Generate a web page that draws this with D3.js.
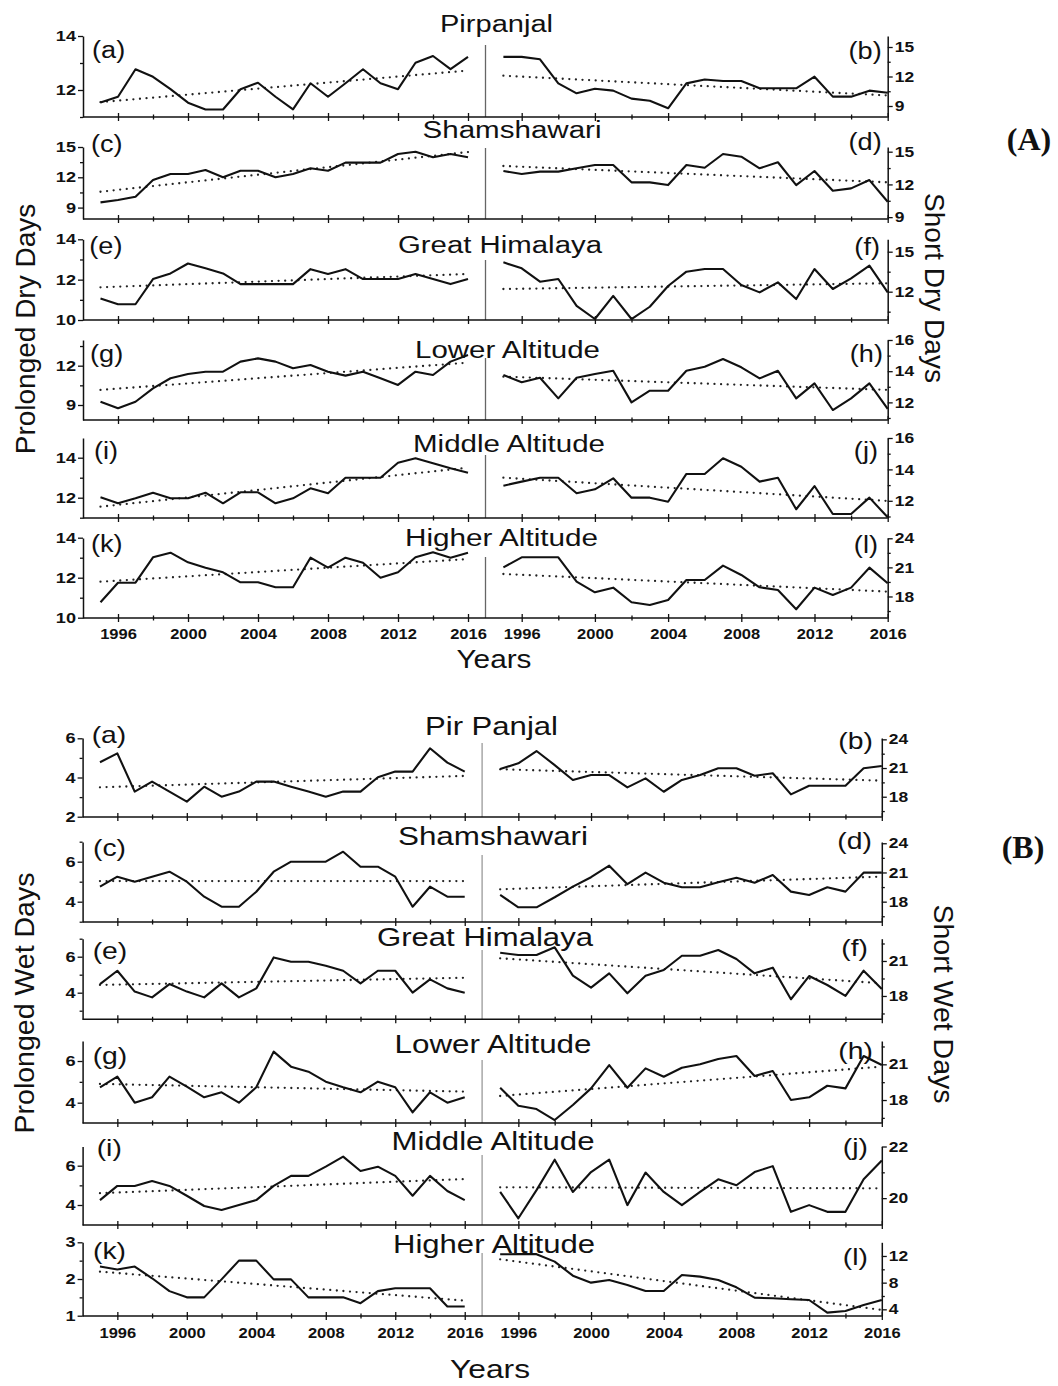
<!DOCTYPE html>
<html>
<head>
<meta charset="utf-8">
<script src="https://cdn.jsdelivr.net/npm/d3@7"></script>
<style>
  body { margin: 0; background: #fff; }
  svg { display: block; }
  text { font-family: "Liberation Sans", Arial, sans-serif; fill: #111; }
</style>
</head>
<body>
<svg id="chart" width="1058" height="1386"></svg>
<script>
// ---- data ---------------------------------------------------------------
const years = [1995, 1996, 1997, 1998, 1999, 2000, 2001, 2002, 2003, 2004, 2005,
               2006, 2007, 2008, 2009, 2010, 2011, 2012, 2013, 2014, 2015, 2016];
const yearTicks = [1996, 2000, 2004, 2008, 2012, 2016];
const yearMinorTicks = [1998, 2002, 2006, 2010, 2014];

const regionsA = ["Pirpanjal", "Shamshawari", "Great Himalaya", "Lower Altitude", "Middle Altitude", "Higher Altitude"];
const regionsB = ["Pir Panjal", "Shamshawari", "Great Himalaya", "Lower Altitude", "Middle Altitude", "Higher Altitude"];
const lettersLeft = ["(a)", "(c)", "(e)", "(g)", "(i)", "(k)"];
const lettersRight = ["(b)", "(d)", "(f)", "(h)", "(j)", "(l)"];

// (A) prolonged dry days
const pdPirpanjal      = [11.54, 11.75, 12.77, 12.49, 12.03, 11.53, 11.28, 11.28, 12.03, 12.27, 11.75, 11.28, 12.25, 11.75, 12.25, 12.77, 12.25, 12.03, 13.01, 13.26, 12.77, 13.23];
const pdShamshawari    = [9.52, 9.75, 10.08, 11.73, 12.33, 12.33, 12.72, 12.0, 12.65, 12.65, 12.0, 12.33, 12.89, 12.65, 13.45, 13.45, 13.45, 14.31, 14.53, 13.98, 14.31, 13.98];
const pdGreatHimalaya  = [11.07, 10.78, 10.78, 12.03, 12.31, 12.8, 12.56, 12.31, 11.78, 11.78, 11.78, 11.78, 12.52, 12.28, 12.52, 12.03, 12.03, 12.03, 12.28, 12.03, 11.78, 12.03];
const pdLower          = [9.25, 8.75, 9.25, 10.27, 11.04, 11.37, 11.54, 11.54, 12.31, 12.56, 12.31, 11.8, 12.05, 11.54, 11.24, 11.54, 11.04, 10.53, 11.54, 11.29, 12.31, 12.82];
const pdMiddle         = [12.02, 11.72, 11.97, 12.25, 11.97, 11.97, 12.25, 11.72, 12.27, 12.27, 11.72, 11.97, 12.47, 12.22, 13.0, 13.0, 13.0, 13.75, 13.97, 13.72, 13.47, 13.25];
const pdHigher         = [10.77, 11.75, 11.75, 13.02, 13.25, 12.77, 12.5, 12.27, 11.77, 11.77, 11.52, 11.52, 13.0, 12.5, 13.0, 12.75, 12.0, 12.27, 13.02, 13.27, 13.0, 13.25];

// (A) short dry days
const sdPirpanjal      = [14.0, 14.0, 13.75, 11.3, 10.29, 10.76, 10.56, 9.75, 9.54, 8.77, 11.3, 11.7, 11.54, 11.54, 10.8, 10.8, 10.8, 11.98, 9.95, 9.95, 10.56, 10.35];
const sdShamshawari    = [13.23, 12.95, 13.17, 13.17, 13.48, 13.78, 13.78, 12.19, 12.19, 11.94, 13.78, 13.53, 14.79, 14.54, 13.48, 14.03, 11.94, 13.23, 11.42, 11.64, 12.4, 10.41];
const sdGreatHimalaya  = [14.2, 13.75, 12.75, 12.95, 10.93, 9.95, 11.68, 9.95, 10.87, 12.43, 13.5, 13.7, 13.7, 12.5, 11.95, 12.7, 11.45, 13.7, 12.2, 13.0, 13.95, 11.95];
const sdLower          = [13.76, 13.29, 13.58, 12.26, 13.58, 13.82, 14.03, 12.0, 12.75, 12.75, 14.03, 14.29, 14.78, 14.25, 13.54, 14.03, 12.26, 13.22, 11.51, 12.26, 13.22, 11.58];
const sdMiddle         = [12.96, 13.22, 13.47, 13.47, 12.48, 12.73, 13.43, 12.2, 12.2, 11.94, 13.71, 13.71, 14.71, 14.17, 13.22, 13.47, 11.46, 12.94, 11.16, 11.16, 12.2, 10.95];
const sdHigher         = [21.0, 22.04, 22.04, 22.04, 19.53, 18.43, 18.91, 17.4, 17.12, 17.64, 19.7, 19.7, 21.18, 20.22, 18.95, 18.67, 16.68, 18.91, 18.15, 18.91, 20.97, 19.36];

// (B) prolonged wet days
const pwPirPanjal      = [4.78, 5.23, 3.28, 3.79, 3.28, 2.77, 3.53, 3.02, 3.28, 3.79, 3.79, 3.53, 3.28, 3.02, 3.28, 3.28, 4.01, 4.3, 4.3, 5.49, 4.76, 4.3];
const pwShamshawari    = [4.75, 5.25, 5.0, 5.25, 5.5, 5.0, 4.25, 3.75, 3.75, 4.5, 5.5, 6.0, 6.0, 6.0, 6.5, 5.75, 5.75, 5.25, 3.75, 4.75, 4.25, 4.25];
const pwGreatHimalaya  = [4.48, 5.22, 4.06, 3.74, 4.48, 4.06, 3.74, 4.52, 3.74, 4.24, 5.96, 5.72, 5.72, 5.5, 5.22, 4.52, 5.22, 5.22, 4.0, 4.74, 4.24, 4.0];
const pwLower          = [4.74, 5.25, 4.0, 4.26, 5.25, 4.77, 4.26, 4.5, 4.0, 4.74, 6.45, 5.73, 5.49, 5.01, 4.74, 4.5, 5.01, 4.74, 3.54, 4.5, 4.0, 4.26];
const pwMiddle         = [4.25, 4.97, 4.97, 5.22, 4.97, 4.47, 3.95, 3.75, 4.0, 4.25, 4.97, 5.48, 5.48, 5.95, 6.46, 5.73, 5.95, 5.48, 4.47, 5.48, 4.71, 4.25];
const pwHigher         = [2.34, 2.26, 2.34, 2.02, 1.67, 1.5, 1.5, 1.99, 2.5, 2.5, 1.99, 1.99, 1.5, 1.5, 1.5, 1.34, 1.67, 1.75, 1.75, 1.75, 1.25, 1.25];

// (B) short wet days
const swPirPanjal      = [20.9, 21.49, 22.78, 21.31, 19.75, 20.27, 20.27, 18.98, 19.92, 18.52, 19.75, 20.27, 20.97, 20.97, 20.2, 20.45, 18.25, 19.15, 19.15, 19.15, 20.97, 21.21];
const swShamshawari    = [18.69, 17.42, 17.42, 18.45, 19.54, 20.51, 21.7, 19.79, 20.98, 19.95, 19.48, 19.48, 19.99, 20.46, 19.95, 20.74, 19.03, 18.69, 19.48, 19.03, 20.98, 20.98];
const swGreatHimalaya  = [21.71, 21.51, 21.51, 22.17, 19.74, 18.71, 19.94, 18.23, 19.74, 20.23, 21.45, 21.45, 21.94, 21.17, 19.94, 20.43, 17.72, 19.71, 18.94, 18.0, 20.17, 18.6];
const swLower          = [19.03, 17.52, 17.24, 16.32, 17.58, 18.98, 20.94, 19.03, 20.66, 19.96, 20.71, 21.0, 21.45, 21.7, 20.02, 20.44, 18.0, 18.23, 19.2, 18.98, 21.7, 20.94];
const swMiddle         = [20.24, 19.22, 20.31, 21.49, 20.24, 21.01, 21.49, 19.73, 20.99, 20.24, 19.73, 20.24, 20.73, 20.5, 21.01, 21.24, 19.47, 19.73, 19.47, 19.47, 20.73, 21.46];
const swHigher         = [12.25, 12.27, 12.27, 11.15, 9.05, 8.0, 8.4, 7.65, 6.75, 6.75, 9.15, 8.9, 8.4, 7.3, 5.75, 5.65, 5.5, 5.4, 3.5, 3.75, 4.65, 5.4];

// linear trend lines: [value in 1995, value in 2016]
const trendPD = [[11.55, 12.72], [10.57, 14.5], [11.62, 12.28], [10.15, 12.23], [11.55, 13.5], [11.8, 12.93]];
const trendSD = [[12.08, 10.07], [13.69, 12.19], [12.2, 12.63], [13.65, 12.8], [13.47, 11.99], [20.32, 18.5]];
const trendPW = [[3.5, 4.08], [5.03, 5.03], [4.43, 4.83], [4.9, 4.53], [4.6, 5.32], [2.2, 1.41]];
const trendSW = [[20.87, 19.68], [19.27, 20.57], [21.23, 19.09], [18.34, 20.8], [20.42, 20.38], [11.5, 3.9]];

// ---- layout -------------------------------------------------------------
const panelA = {
  xLeft: [83, 485.5], xRight: [485.1, 887.7], tickLabelY: 21, sepColor: "#666",
  left: [pdPirpanjal, pdShamshawari, pdGreatHimalaya, pdLower, pdMiddle, pdHigher],
  right: [sdPirpanjal, sdShamshawari, sdGreatHimalaya, sdLower, sdMiddle, sdHigher],
  trendL: trendPD, trendR: trendSD, regions: regionsA, titleSize: 23, letterSize: 23,
  rows: [
    { top: 36, bottom: 117, sepTop: 45, lDom: [11, 14], rDom: [7.881, 16.119],
      lMaj: [12, 14], lMin: [11, 13], rMaj: [9, 12, 15], rMin: [10.5, 13.5],
      title: [496.5, 32, 113], labL: [92, 57.5], labR: [881.7, 59] },
    { top: 147, bottom: 219, sepTop: 148, lDom: [7.87, 15], rDom: [8.83, 15.43],
      lMaj: [9, 12, 15], lMin: [10.5, 13.5], rMaj: [9, 12, 15], rMin: [10.5, 13.5],
      title: [512, 138, 179], labL: [91, 152], labR: [881.7, 150] },
    { top: 239.3, bottom: 320, sepTop: 260, lDom: [10, 14], rDom: [9.876, 15.93],
      lMaj: [10, 12, 14], lMin: [11, 13], rMaj: [12, 15], rMin: [10.5, 13.5],
      title: [500, 253, 204], labL: [89.3, 254], labR: [880, 255] },
    { top: 340, bottom: 420, sepTop: 358, lDom: [7.855, 13.96], rDom: [10.87, 16],
      lMaj: [9, 12], lMin: [10.5, 13.5], rMaj: [12, 14, 16], rMin: [11, 13, 15],
      title: [507.5, 358, 185], labL: [90, 362], labR: [883, 362] },
    { top: 438, bottom: 518, sepTop: 455, lDom: [10.985, 14.985], rDom: [10.904, 16],
      lMaj: [12, 14], lMin: [11, 13], rMaj: [12, 14, 16], rMin: [11, 13, 15],
      title: [509, 452, 192], labL: [94, 459], labR: [878, 459] },
    { top: 538, bottom: 618, sepTop: 557, lDom: [9.985, 13.985], rDom: [15.78, 24.03],
      lMaj: [10, 12, 14], lMin: [11, 13], rMaj: [18, 21, 24], rMin: [16.5, 19.5, 22.5],
      title: [501.5, 546, 193], labL: [91, 552], labR: [878, 553] }
  ]
};

const panelB = {
  xLeft: [82.6, 482.1], xRight: [482, 881.8], tickLabelY: 22, sepColor: "#9a9a9a",
  left: [pwPirPanjal, pwShamshawari, pwGreatHimalaya, pwLower, pwMiddle, pwHigher],
  right: [swPirPanjal, swShamshawari, swGreatHimalaya, swLower, swMiddle, swHigher],
  trendL: trendPW, trendR: trendSW, regions: regionsB, titleSize: 25, letterSize: 24,
  rows: [
    { top: 738, bottom: 817, sepTop: 743, lDom: [1.985, 6.015], rDom: [15.88, 24.14],
      lMaj: [2, 4, 6], lMin: [3, 5], rMaj: [18, 21, 24], rMin: [16.5, 19.5, 22.5],
      title: [491.5, 735, 133], labL: [91.7, 743], labR: [873, 749] },
    { top: 842, bottom: 922, sepTop: 855, lDom: [2.985, 6.985], rDom: [15.91, 24.13],
      lMaj: [4, 6], lMin: [3, 5, 7], rMaj: [18, 21, 24], rMin: [16.5, 19.5, 22.5],
      title: [493, 845, 190], labL: [93, 856], labR: [872, 849] },
    { top: 938.7, bottom: 1019.3, sepTop: 950, lDom: [2.522, 7.0], rDom: [16.0, 22.91],
      lMaj: [4, 6], lMin: [3, 5, 7], rMaj: [18, 21], rMin: [16.5, 19.5, 22.5],
      title: [485, 946, 216], labL: [92.7, 959], labR: [868, 956] },
    { top: 1041, bottom: 1123, sepTop: 1060, lDom: [3.026, 6.96], rDom: [16.07, 22.96],
      lMaj: [4, 6], lMin: [5], rMaj: [18, 21], rMin: [16.5, 19.5, 22.5],
      title: [493, 1053, 197], labL: [92.7, 1064], labR: [873, 1059] },
    { top: 1146.5, bottom: 1225, sepTop: 1155, lDom: [2.982, 6.977], rDom: [18.96, 22],
      lMaj: [4, 6], lMin: [5], rMaj: [20, 22], rMin: [21],
      title: [493, 1150, 203], labL: [96.7, 1156], labR: [868, 1155] },
    { top: 1242.3, bottom: 1316, sepTop: 1253, lDom: [0.992, 3], rDom: [3.0, 14.05],
      lMaj: [1, 2, 3], lMin: [1.5, 2.5], rMaj: [4, 8, 12], rMin: [6, 10],
      title: [494, 1253, 202], labL: [93, 1259], labR: [868, 1265] }
  ]
};

// ---- drawing ------------------------------------------------------------
const svg = d3.select("#chart");

// widen glyphs horizontally by a factor, keeping the anchor
function widen(sel, f) {
  sel.each(function () {
    const w = this.getComputedTextLength();
    d3.select(this).attr("textLength", w * f).attr("lengthAdjust", "spacingAndGlyphs");
  });
}

function styleAxis(g, labelSize) {
  g.select(".domain").attr("stroke", "#111").attr("stroke-width", 1.5);
  g.selectAll(".tick line").attr("stroke", "#111").attr("stroke-width", 1.3);
  g.selectAll(".tick text")
    .attr("fill", "#111")
    .style("font-family", '"Liberation Sans", Arial, sans-serif')
    .style("font-weight", "bold")
    .style("font-size", labelSize + "px");
}

function drawPanel(p) {
  const xL = d3.scaleLinear().domain([1994, 2017]).range(p.xLeft);
  const xR = d3.scaleLinear().domain([1994, 2016]).range(p.xRight);
  const last = p.rows.length - 1;

  p.rows.forEach((row, i) => {
    const g = svg.append("g");
    const yL = d3.scaleLinear().domain(row.lDom).range([row.bottom, row.top]);
    const yR = d3.scaleLinear().domain(row.rDom).range([row.bottom, row.top]);

    // title and panel letters
    const t = g.append("text")
      .attr("x", row.title[0]).attr("y", row.title[1])
      .attr("text-anchor", "middle")
      .style("font-size", p.titleSize + "px")
      .text(p.regions[i]);
    t.attr("textLength", row.title[2]).attr("lengthAdjust", "spacingAndGlyphs");

    widen(g.append("text")
      .attr("x", row.labL[0]).attr("y", row.labL[1])
      .style("font-size", p.letterSize + "px")
      .text(lettersLeft[i]), 1.18);
    widen(g.append("text")
      .attr("x", row.labR[0]).attr("y", row.labR[1])
      .attr("text-anchor", "end")
      .style("font-size", p.letterSize + "px")
      .text(lettersRight[i]), 1.18);

    // separator between the two columns
    g.append("line")
      .attr("x1", xL(2017)).attr("x2", xL(2017))
      .attr("y1", row.sepTop).attr("y2", row.bottom)
      .attr("stroke", p.sepColor).attr("stroke-width", 1.3);

    // bottom axis line spanning both columns
    g.append("line")
      .attr("x1", p.xLeft[0]).attr("x2", p.xRight[1])
      .attr("y1", row.bottom).attr("y2", row.bottom)
      .attr("stroke", "#111").attr("stroke-width", 1.5);

    // year ticks for both columns
    [xL, xR].forEach(x => {
      const major = g.append("g")
        .attr("transform", `translate(0,${row.bottom})`)
        .call(d3.axisBottom(x).tickValues(yearTicks).tickSize(4)
          .tickFormat(i === last ? d3.format("d") : ""));
      major.select(".domain").remove();
      styleAxis(major, 15);
      major.selectAll(".tick line").attr("y1", -4);
      major.selectAll(".tick text").attr("y", p.tickLabelY).attr("dy", 0);
      if (i === last) widen(major.selectAll(".tick text"), 1.1);

      const minor = g.append("g")
        .attr("transform", `translate(0,${row.bottom})`)
        .call(d3.axisBottom(x).tickValues(yearMinorTicks).tickSize(2.5).tickFormat(""));
      minor.select(".domain").remove();
      styleAxis(minor, 15);
      minor.selectAll(".tick line").attr("y1", -2.5);
    });

    // left value axis
    const la = g.append("g")
      .attr("transform", `translate(${p.xLeft[0]},0)`)
      .call(d3.axisLeft(yL).tickValues(row.lMaj).tickSize(5).tickSizeOuter(0)
        .tickPadding(2).tickFormat(d3.format("d")));
    styleAxis(la, 14.5);
    widen(la.selectAll(".tick text"), 1.25);
    const lm = g.append("g")
      .attr("transform", `translate(${p.xLeft[0]},0)`)
      .call(d3.axisLeft(yL).tickValues(row.lMin).tickSize(3).tickFormat(""));
    lm.select(".domain").remove();
    styleAxis(lm, 14);

    // right value axis
    const ra = g.append("g")
      .attr("transform", `translate(${p.xRight[1]},0)`)
      .call(d3.axisRight(yR).tickValues(row.rMaj).tickSize(5).tickSizeOuter(0)
        .tickPadding(2).tickFormat(d3.format("d")));
    styleAxis(ra, 14.5);
    widen(ra.selectAll(".tick text"), 1.2);
    const rm = g.append("g")
      .attr("transform", `translate(${p.xRight[1]},0)`)
      .call(d3.axisRight(yR).tickValues(row.rMin).tickSize(3).tickFormat(""));
    rm.select(".domain").remove();
    styleAxis(rm, 14);

    // trend lines (dotted)
    const trendLine = (x, y) => d3.line().x(d => x(d[0])).y(d => y(d[1]));
    [[xL, yL, p.trendL[i]], [xR, yR, p.trendR[i]]].forEach(([x, y, tr]) => {
      g.append("path")
        .datum([[years[0], tr[0]], [years[years.length - 1], tr[1]]])
        .attr("d", trendLine(x, y))
        .attr("fill", "none").attr("stroke", "#222")
        .attr("stroke-width", 2.3).attr("stroke-linecap", "round")
        .attr("stroke-dasharray", "0 6.6");
    });

    // data series
    [[xL, yL, p.left[i]], [xR, yR, p.right[i]]].forEach(([x, y, vals]) => {
      g.append("path")
        .datum(years.map((yr, k) => [yr, vals[k]]))
        .attr("d", d3.line().x(d => x(d[0])).y(d => y(d[1])))
        .attr("fill", "none").attr("stroke", "#111")
        .attr("stroke-width", 2.1).attr("stroke-linejoin", "round");
    });
  });
}

drawPanel(panelA);
drawPanel(panelB);

// axis titles
function sideTitle(txt, x, y, angle, size) {
  svg.append("text")
    .attr("transform", `translate(${x},${y}) rotate(${angle})`)
    .attr("text-anchor", "middle")
    .style("font-size", size + "px")
    .text(txt);
}
sideTitle("Prolonged Dry Days", 35, 329, -90, 28);
sideTitle("Short Dry Days", 925, 288, 90, 28);
sideTitle("Prolonged Wet Days", 34, 1003, -90, 28.5);
sideTitle("Short Wet Days", 934, 1004, 90, 28.5);

svg.append("text").attr("x", 494).attr("y", 668).attr("text-anchor", "middle")
  .style("font-size", "25px").text("Years")
  .attr("textLength", 75).attr("lengthAdjust", "spacingAndGlyphs");
svg.append("text").attr("x", 490).attr("y", 1378).attr("text-anchor", "middle")
  .style("font-size", "25px").text("Years")
  .attr("textLength", 80).attr("lengthAdjust", "spacingAndGlyphs");

// figure part markers
[["(A)", 1029, 150], ["(B)", 1023, 858]].forEach(([s, x, y]) => {
  svg.append("text").attr("x", x).attr("y", y).attr("text-anchor", "middle")
    .style("font-family", '"Liberation Serif", "Times New Roman", serif')
    .style("font-weight", "bold").style("font-size", "32px")
    .text(s);
});
</script>
</body>
</html>
